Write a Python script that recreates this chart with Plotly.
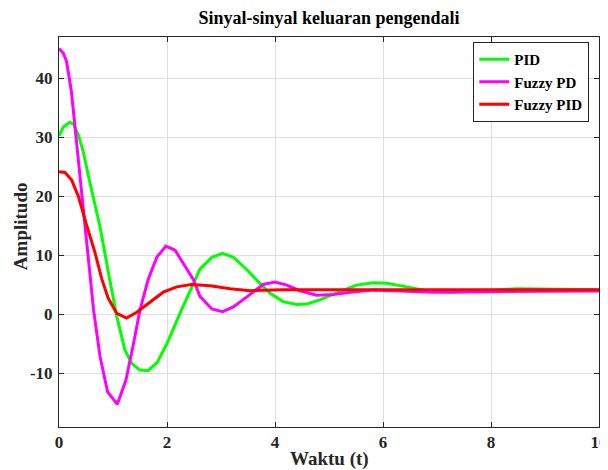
import plotly.graph_objects as go

t_pid = [0, 0.08, 0.2, 0.27, 0.36, 0.45, 0.54, 0.76, 0.94, 1.07, 1.22, 1.35, 1.5, 1.65, 1.82, 2.0, 2.24, 2.43,
         2.61, 2.83, 3.03, 3.23, 3.48, 3.72, 3.91, 4.15, 4.4, 4.59, 4.83, 5.2, 5.51, 5.82, 6.07, 6.44, 6.81,
         7.24, 7.86, 8.47, 9.1, 10]
v_pid = [30.2, 31.7, 32.5, 32.2, 30.3, 27.5, 23.6, 14.8, 5.8, -0.4, -6.1, -8.4, -9.5, -9.6, -8.2, -5.0, 0.1, 4.1,
         7.6, 9.6, 10.3, 9.6, 7.5, 5.2, 3.5, 2.1, 1.6, 1.7, 2.4, 3.8, 4.9, 5.3, 5.2, 4.6, 3.95,
         3.7, 3.9, 4.3, 4.2, 4.1]

t_fpd = [0, 0.08, 0.14, 0.185, 0.23, 0.28, 0.33, 0.39, 0.51, 0.64, 0.76, 0.9, 1.08, 1.24, 1.38, 1.5, 1.65, 1.81,
         1.98, 2.15, 2.3, 2.49, 2.61, 2.83, 3.03, 3.23, 3.48, 3.78, 4.0, 4.22, 4.46, 4.77, 5.08, 5.39, 5.82,
         6.31, 6.93, 7.55, 8.78, 10]
v_fpd = [45.0, 44.2, 42.8, 40.5, 37.7, 33.2, 28.6, 23.6, 13.1, 0.7, -7.2, -13.2, -15.3, -11.2, -5.0, 0.7, 5.8, 9.6,
         11.5, 10.8, 8.6, 5.8, 3.0, 0.85, 0.4, 1.2, 2.9, 5.0, 5.4, 4.9, 3.95, 3.2, 3.3, 3.7, 4.07,
         3.9, 3.7, 3.75, 3.85, 3.9]

t_fpid = [0, 0.11, 0.235, 0.36, 0.51, 0.67, 0.79, 0.91, 1.07, 1.25, 1.44, 1.69, 1.93, 2.18, 2.45, 2.8, 3.17,
          3.54, 4.15, 5, 6, 7, 8, 9, 10]
v_fpid = [24.1, 24.0, 22.7, 19.9, 15.1, 10.3, 6.0, 2.7, 0.1, -0.7, 0.3, 2.1, 3.7, 4.6, 5.0, 4.8, 4.3,
          3.95, 4.1, 4.1, 4.1, 4.1, 4.1, 4.1, 4.1]

x_ticks = [0, 2, 4, 6, 8, 10]
y_ticks = [-10, 0, 10, 20, 30, 40]

FONT = "Liberation Serif, Times New Roman, serif"
AX = "#262626"

fig = go.Figure()
fig.add_trace(go.Scatter(x=t_pid, y=v_pid, mode="lines", name="<b>PID</b>",
                         line=dict(color="#00ff00", width=3)))
fig.add_trace(go.Scatter(x=t_fpd, y=v_fpd, mode="lines", name="<b>Fuzzy PD</b>",
                         line=dict(color="#ff00ff", width=3)))
fig.add_trace(go.Scatter(x=t_fpid, y=v_fpid, mode="lines", name="<b>Fuzzy PID</b>",
                         line=dict(color="#ff0000", width=3)))

axis_common = dict(showline=True, linecolor=AX, linewidth=1, mirror="ticks",
                   ticks="inside", ticklen=5, tickcolor=AX,
                   showgrid=True, gridcolor="#dedede", gridwidth=1,
                   zeroline=False, automargin=False,
                   tickfont=dict(family=FONT, size=17, color=AX))

fig.update_layout(
    width=600, height=462,
    paper_bgcolor="white", plot_bgcolor="white",
    margin=dict(l=51, r=9, t=29, b=43),
    title=dict(text="<b>Sinyal-sinyal keluaran pengendali</b>", x=0.535, xanchor="center",
               y=0.978, yanchor="middle", font=dict(family=FONT, size=18, color="black")),
    xaxis=dict(range=[0, 10], tickvals=x_ticks, ticktext=[f"<b>{v}</b>" for v in x_ticks],
               **axis_common),
    yaxis=dict(range=[-19.15, 46.95], tickvals=y_ticks, ticktext=[f"<b>{v}</b>" for v in y_ticks],
               ticklabelstandoff=2, **axis_common),
    legend=dict(x=0.982, y=0.987, xanchor="right", yanchor="top",
                bgcolor="white", bordercolor=AX, borderwidth=1,
                font=dict(family=FONT, size=15, color="black"),
                tracegroupgap=0, itemwidth=30),
    showlegend=True,
    annotations=[
        dict(text="<b>Waktu (t)</b>", xref="paper", yref="paper", x=0.5, y=-0.082,
             xanchor="center", yanchor="middle", showarrow=False,
             font=dict(family=FONT, size=19, color=AX)),
        dict(text="<b>Amplitudo</b>", xref="paper", yref="paper", x=-0.0722, y=0.515,
             xanchor="center", yanchor="middle", showarrow=False, textangle=-90,
             font=dict(family=FONT, size=19, color=AX)),
    ],
)

fig.write_html("out.html")
